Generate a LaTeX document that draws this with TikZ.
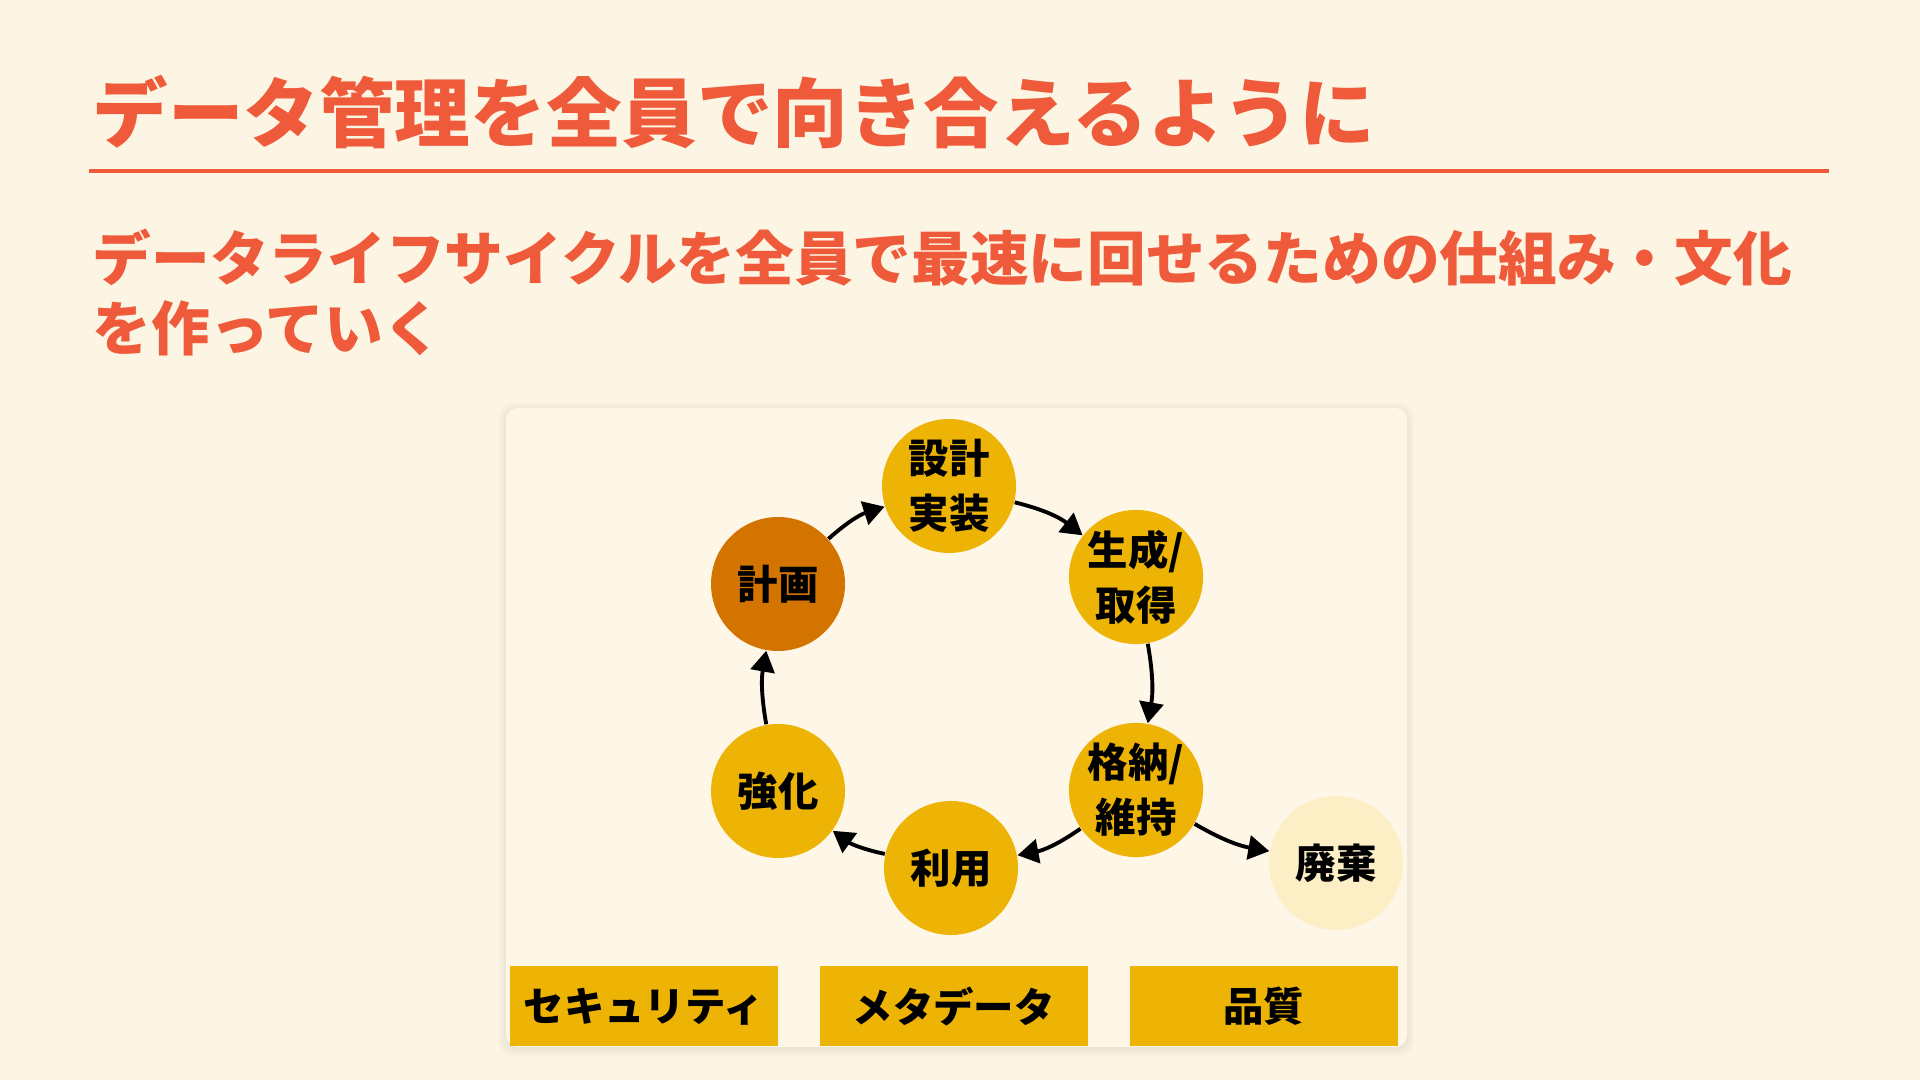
\documentclass[tikz,border=0pt]{standalone}
\usepackage{fontspec}
\setmainfont{Noto Sans CJK JP}
\usepackage{xcolor}
\usepackage{tikz}
\usetikzlibrary{positioning,arrows.meta}
\definecolor{paper}{HTML}{FDF5E3}
\definecolor{cardbg}{HTML}{FEF7E8}
\definecolor{headred}{HTML}{EE5A3A}
\definecolor{gold}{HTML}{EDB406}
\definecolor{rust}{HTML}{D47400}
\definecolor{pale}{HTML}{FCEFC6}

\begin{document}
\begin{tikzpicture}[
  stage/.style={circle, fill=gold, minimum size=1.34cm, inner sep=0pt, align=center, font=\fontsize{11.5}{15.6}\selectfont\bfseries},
  plan/.style={stage, fill=rust},
  gone/.style={stage, fill=pale},
  bar/.style={fill=gold, minimum width=2.68cm, minimum height=0.80cm, inner sep=0pt, font=\fontsize{11.5}{14}\selectfont\bfseries},
  arr/.style={-{Triangle[length=2.1mm,width=2.4mm]}, line width=1.1pt, black},
  node distance=0.8cm and 1.2cm, on grid]
\useasboundingbox[fill=paper] (0,0) rectangle (19.2,10.8);
% heading
\node[anchor=west, inner sep=0pt, text=headred, font=\fontsize{21.5}{26}\selectfont\bfseries] (title) at (0.92,9.68) {データ管理を全員で向き合えるように};
\draw[headred, line width=1.4pt] (0.89,9.09) -- (18.29,9.09);
\node[anchor=west, inner sep=0pt, align=left, text=headred, font=\fontsize{16.7}{20.1}\selectfont\bfseries] (sub) at (0.92,7.875) {データライフサイクルを全員で最速に回せるための仕組み・文化\\を作っていく};
% card
\foreach \s in {0.02,0.045,0.07}
  \fill[black, opacity=0.02, rounded corners=0.15cm] (5.06-\s,0.33-\s-0.02) rectangle (14.07+\s,6.72+\s-0.02);
\node[fill=cardbg, rounded corners=0.12cm, minimum width=9.01cm, minimum height=6.39cm, inner sep=0pt] (card) at (9.565,3.525) {};
% lifecycle
\node[plan] (plan) at (7.78,4.96) {計画};
\node[stage, above right=0.98cm and 1.71cm of plan] (design) {設計\\実装};
\node[stage, below right=0.91cm and 1.87cm of design] (acquire) {生成/\\取得};
\node[stage, below=2.13cm of acquire] (store) {格納/\\維持};
\node[stage, below left=0.78cm and 1.85cm of store] (use) {利用};
\node[stage, above left=0.77cm and 1.73cm of use] (improve) {強化};
\node[gone, below right=0.73cm and 2.0cm of store] (discard) {廃棄};
\draw[arr] (plan) to[bend left=12] (design);
\draw[arr] (design) to[bend left=12] (acquire);
\draw[arr] (acquire) to[bend left=10] (store);
\draw[arr] (store) to[bend left=12] (use);
\draw[arr] (use) to[bend left=12] (improve);
\draw[arr] (improve) to[bend left=10] (plan);
\draw[arr] (store) to[bend right=10] (discard);
% foundations
\node[bar, anchor=south west] (sec) at (5.09,0.33) {セキュリティ};
\node[bar, right=3.10cm of sec] (meta) {メタデータ};
\node[bar, right=3.10cm of meta] (qual) {品質};
\end{tikzpicture}
\end{document}
